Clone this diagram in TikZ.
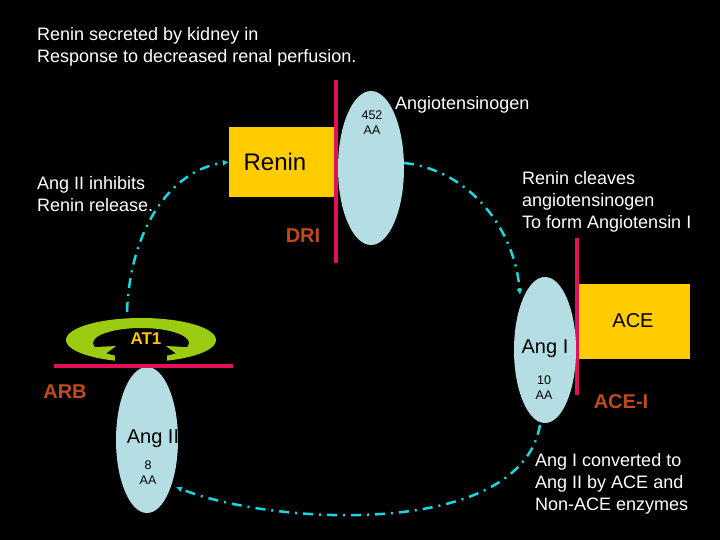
\documentclass[tikz,border=0pt]{standalone}
\usepackage{fontspec}
\setmainfont{Liberation Sans}
\usetikzlibrary{arrows.meta}
\definecolor{cGold}{HTML}{FFCC00}
\definecolor{cMemb}{HTML}{E0105A}
\definecolor{cPep}{HTML}{B4DEE4}
\definecolor{cFlow}{HTML}{18D8E0}
\definecolor{cDrug}{HTML}{C04A1C}
\definecolor{cRec}{HTML}{9CCC10}
\begin{document}
\begin{tikzpicture}[x=1pt,y=-1pt,
  txt/.style={text=white, font=\fontsize{18}{22}\selectfont, align=left, inner sep=0},
  small/.style={font=\fontsize{12.5}{15}\selectfont, align=center, inner sep=0},
  box/.style={fill=cGold, draw=none},
  label/.style={text=black, font=\fontsize{20}{22}\selectfont, inner sep=0},
  memb/.style={cMemb, line width=3.5pt},
  flow/.style={cFlow, line width=2.5pt, dash pattern=on 10pt off 6pt on 2pt off 6pt, -{Latex[length=6pt,width=6pt]}},
  drug/.style={text=cDrug, font=\fontsize{20}{22}\selectfont\bfseries, inner sep=0}]
\fill[black] (0,0) rectangle (720,540);
\useasboundingbox (0,0) rectangle (720,540);
\node[txt, anchor=north west] (top) at (37,27) {Renin secreted by kidney in\\Response to decreased renal perfusion.};
% renin
\node[box, minimum width=106pt, minimum height=70pt] (renin) at (282,162) {};
\node[label, font=\fontsize{24}{26}\selectfont] (reninT) at (275,162) {Renin};
\draw[memb] (336,80) -- (336,263);
\fill[cPep] (371,168) ellipse [x radius=33, y radius=77];
\coordinate (agtR) at (404,163);
\node[small] (aa452) at (372,123) {452\\AA};
\node[txt, anchor=west] (agt) at (395,105) {Angiotensinogen};
\node[drug] (dri) at (303,236) {DRI};
\node[txt, anchor=north west] (cleave) at (522,171) {Renin cleaves\\angiotensinogen\\To form Angiotensin I};
% ACE
\node[box, minimum width=112pt, minimum height=75pt] (ace) at (634,321) {};
\node[label] (aceT) at (633,321) {ACE};
\draw[memb] (577,238) -- (577,395);
\fill[cPep] (545,350) ellipse [x radius=31, y radius=73];
\coordinate (angIT) at (520,295);
\coordinate (angIB) at (540,425);
\node[label] (angI) at (545,349) {Ang I};
\node[small] (aa10) at (544,388) {10\\AA};
\node[drug] (acei) at (621,402) {ACE-I};
\node[txt, anchor=north west] (conv) at (535,453) {Ang I converted to\\Ang II by ACE and\\Non-ACE enzymes};
% Ang II / AT1
\fill[cPep] (147,440) ellipse [x radius=31, y radius=73];
\coordinate (angIIR) at (176,487);
\node[label] (angII) at (153,439) {Ang II};
\node[small] (aa8) at (148,473) {8\\AA};
\fill[cRec, even odd rule] (141,340) ellipse [x radius=75, y radius=22]
  (141,343) ellipse [x radius=48, y radius=15];
\fill[cRec] (78,348) -- (116,346) -- (100,358) -- cycle;
\fill[cRec] (204,348) -- (166,346) -- (182,358) -- cycle;
\fill[black] (115,352) rectangle (167,362);
\draw[memb] (54,366) -- (233,366);
\node[text=cGold!90!orange, font=\fontsize{17}{19}\selectfont\bfseries, inner sep=0] (at1) at (146,339) {AT1};
\coordinate (at1T) at (127,312);
\node[drug] (arb) at (65,392) {ARB};
\node[txt, anchor=north west] (inhib) at (37,176) {Ang II inhibits\\Renin release.};
% flows
\draw[flow] (agtR) .. controls (470,170) and (515,230) .. (angIT);
\draw[flow] (angIB) .. controls (520,540) and (270,525) .. (angIIR);
\draw[flow] (at1T) .. controls (130,230) and (170,170) .. (renin.west);
\end{tikzpicture}
\end{document}
